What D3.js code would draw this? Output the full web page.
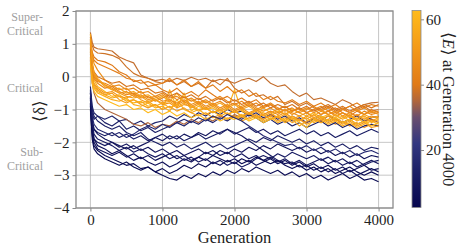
<!DOCTYPE html>
<html>
<head>
<meta charset="utf-8">
<script src="https://cdn.jsdelivr.net/npm/d3@7"></script>
<style>
  body { margin: 0; background: #fff; }
  svg { display: block; }
</style>
</head>
<body>
<div id="chart"></div>
<script>
// generations sampled
const generations = [0, 25, 50, 100,
  200, 300, 400, 500, 600, 700, 800, 900, 1000,
  1100, 1200, 1300, 1400, 1500, 1600, 1700, 1800, 1900, 2000,
  2100, 2200, 2300, 2400, 2500, 2600, 2700, 2800, 2900, 3000,
  3100, 3200, 3300, 3400, 3500, 3600, 3700, 3800, 3900, 4000];

// <E> at generation 4000, one per run
const energyFinal = [8, 37, 16, 55, 5, 38, 60, 12, 40, 50, 14, 35, 45, 10, 58, 41, 6, 52, 47, 9, 62, 13, 44, 4, 56, 17, 48, 11, 39, 53];

// <delta> for each run
const deltaRuns = [
  // 8
  [-0.8, -1.7, -2.0, -2.2,
   -2.3, -2.4, -2.3, -2.45, -2.35, -2.5, -2.4, -2.55, -2.45,
   -2.35, -2.5, -2.4, -2.55, -2.45, -2.3, -2.4, -2.25, -2.35, -2.2,
   -2.3, -2.15, -2.25, -2.1, -2.2, -2.05, -2.15, -2.25, -2.15, -2.3,
   -2.2, -2.35, -2.25, -2.4, -2.3, -2.45, -2.35, -2.5, -2.4, -2.45],
  // 37
  [1.35, 1.05, 0.9, 0.85,
   0.82, 0.78, 0.6, 0.5, 0.42, 0.05, -0.05, -0.12, -0.08,
   -0.15, -0.05, -0.12, -0.02, -0.1, -0.05, -0.15, -0.08, -0.12, -0.2,
   -0.1, -0.05, -0.15, 0.0, -0.2, -0.3, -0.25, -0.45, -0.6, -0.5,
   -0.7, -0.65, -0.75, -0.85, -0.7, -0.8, -0.95, -0.85, -0.8, -0.78],
  // 16
  [-0.3, -0.9, -1.1, -1.2,
   -1.3, -1.2, -1.35, -1.3, -1.45, -1.35, -1.5, -1.4, -1.35,
   -1.2, -1.3, -1.15, -1.25, -1.1, -1.2, -1.05, -1.15, -1.0, -1.1,
   -1.05, -1.2, -1.1, -1.25, -1.15, -1.3, -1.2, -1.35, -1.25, -1.4,
   -1.3, -1.2, -1.35, -1.25, -1.4, -1.3, -1.2, -1.35, -1.25, -1.2],
  // 55
  [1.3, 0.5, 0.1, -0.1,
   -0.3, -0.4, -0.35, -0.5, -0.45, -0.6, -0.55, -0.7, -0.6,
   -0.75, -0.5, -0.8, -0.7, -0.85, -0.75, -0.9, -0.8, -0.95, -0.85,
   -1.0, -0.9, -1.05, -0.95, -1.1, -1.0, -1.15, -1.05, -0.95, -1.1,
   -1.2, -1.05, -1.15, -1.25, -1.1, -1.2, -1.3, -1.15, -1.25, -1.2],
  // 5
  [-1.0, -1.8, -2.1, -2.25,
   -2.4, -2.5, -2.6, -2.7, -2.65, -2.8, -2.75, -2.9, -3.0,
   -3.1, -3.15, -3.0, -3.1, -2.95, -3.05, -2.9, -3.0, -2.85, -2.95,
   -2.8, -2.9, -2.75, -2.85, -2.95, -2.85, -3.0, -2.9, -3.05, -2.95,
   -3.1, -3.0, -3.15, -3.05, -2.95, -3.1, -3.0, -3.15, -3.1, -3.2],
  // 38
  [1.2, 0.95, 0.8, 0.72,
   0.7, 0.65, 0.55, 0.3, 0.1, 0.0, -0.05, -0.15, -0.2,
   -0.1, -0.25, -0.15, -0.3, -0.2, -0.35, -0.1, -0.25, -0.05, -0.35,
   -0.5, -0.4, -0.6, -0.55, -0.7, -0.6, -0.85, -0.75, -0.9, -0.8,
   -0.95, -1.0, -0.9, -1.05, -0.95, -1.1, -1.0, -0.9, -1.05, -1.0],
  // 60
  [0.9, 0.2, -0.1, -0.3,
   -0.45, -0.6, -0.55, -0.7, -0.8, -0.75, -0.9, -0.85, -1.0,
   -0.4, -0.95, -0.5, -1.05, -0.9, -1.0, -0.95, -1.1, -1.0, -0.4,
   -1.05, -1.15, -1.0, -1.1, -1.2, -1.05, -1.15, -1.0, -1.1, -1.2,
   -1.1, -1.25, -1.15, -1.3, -1.2, -1.35, -1.25, -1.4, -1.3, -1.35],
  // 12
  [-0.7, -1.4, -1.6, -1.7,
   -1.8, -1.7, -1.85, -1.75, -1.9, -1.8, -1.95, -1.85, -1.75,
   -1.9, -1.8, -1.95, -1.85, -1.75, -1.9, -1.8, -1.7, -1.6, -1.75,
   -1.65, -1.55, -1.7, -1.6, -1.75, -1.65, -1.8, -1.7, -1.6, -1.75,
   -1.65, -1.8, -1.7, -1.85, -1.75, -1.65, -1.8, -1.7, -1.6, -1.7],
  // 40
  [1.05, 0.75, 0.6, 0.5,
   0.45, 0.35, 0.15, 0.05, -0.15, -0.1, -0.3, -0.25, -0.4,
   -0.5, -0.35, -0.55, -0.45, -0.6, -0.4, -0.55, -0.7, -0.6, -0.75,
   -0.65, -0.8, -0.7, -0.9, -0.85, -1.0, -0.9, -1.05, -0.95, -1.1,
   -1.0, -1.15, -1.05, -0.95, -1.1, -1.2, -1.05, -1.15, -1.0, -1.1],
  // 50
  [0.7, 0.1, -0.2, -0.35,
   -0.5, -0.45, -0.6, -0.65, -0.55, -0.7, -0.8, -0.7, -0.85,
   -0.8, -0.95, -0.85, -0.9, -1.0, -0.95, -1.1, -1.0, -1.15, -1.05,
   -1.2, -1.1, -1.25, -1.15, -1.3, -1.2, -1.1, -1.25, -1.35, -1.2,
   -1.3, -1.4, -1.3, -1.45, -1.35, -1.5, -1.4, -1.55, -1.45, -1.5],
  // 14
  [-0.5, -1.1, -1.3, -1.2,
   -1.4, -1.5, -1.35, -1.6, -1.5, -1.65, -1.55, -1.7, -1.6,
   -1.5, -1.4, -1.5, -1.35, -1.45, -1.3, -1.4, -1.25, -1.35, -1.2,
   -1.3, -1.15, -1.25, -1.4, -1.3, -1.45, -1.35, -1.5, -1.4, -1.55,
   -1.45, -1.35, -1.5, -1.4, -1.55, -1.45, -1.6, -1.5, -1.45, -1.5],
  // 35
  [0.5, -0.2, -0.5, -0.8,
   -1.0, -1.1, -1.2, -1.3, -1.45, -1.5, -1.4, -1.55, -1.45,
   -1.5, -1.35, -1.45, -1.3, -1.4, -1.25, -1.35, -1.2, -1.3, -1.15,
   -1.25, -1.1, -1.2, -1.3, -1.15, -1.25, -1.35, -1.2, -1.3, -1.4,
   -1.25, -1.35, -1.2, -1.3, -1.4, -1.3, -1.45, -1.35, -1.3, -1.4],
  // 45
  [1.1, 0.3, 0.0, -0.15,
   -0.2, -0.3, -0.25, -0.4, -0.35, -0.5, -0.45, -0.6, -0.5,
   -0.65, -0.6, -0.75, -0.65, -0.8, -0.7, -0.85, -0.75, -0.9, -0.8,
   -0.95, -0.85, -1.0, -0.9, -0.8, -0.95, -1.05, -0.95, -1.1, -1.0,
   -0.9, -1.05, -0.95, -1.1, -1.0, -0.9, -1.05, -0.95, -1.1, -1.05],
  // 10
  [-0.9, -1.6, -1.9, -2.0,
   -2.1, -2.0, -2.15, -2.05, -2.2, -2.1, -2.0, -1.85, -1.95,
   -1.8, -1.9, -1.75, -1.85, -1.7, -1.8, -1.65, -1.75, -1.6, -1.7,
   -1.8, -1.95, -2.1, -2.25, -2.4, -2.55, -2.65, -2.6, -2.75, -2.7,
   -2.85, -2.75, -2.9, -2.8, -2.95, -2.85, -3.0, -2.9, -2.8, -2.9],
  // 58
  [0.6, -0.1, -0.35, -0.5,
   -0.6, -0.7, -0.75, -0.65, -0.85, -0.9, -0.8, -0.95, -0.9,
   -1.05, -0.7, -1.0, -1.1, -1.0, -1.15, -1.05, -1.2, -1.1, -1.25,
   -1.15, -1.3, -1.2, -1.35, -1.25, -1.4, -1.3, -1.2, -1.35, -1.25,
   -1.4, -1.3, -1.45, -1.35, -1.5, -1.4, -1.55, -1.45, -1.35, -1.45],
  // 41
  [0.95, 0.65, 0.5, 0.4,
   0.3, 0.2, 0.1, -0.05, -0.1, -0.2, -0.15, -0.25, -0.2,
   -0.05, -0.25, -0.1, -0.3, -0.15, -0.35, -0.25, -0.45, -0.3, -0.5,
   -0.4, -0.6, -0.5, -0.7, -0.6, -0.75, -0.8, -0.7, -0.85, -0.75,
   -0.9, -0.8, -0.95, -0.85, -1.0, -0.9, -0.8, -0.95, -0.85, -0.9],
  // 6
  [-0.6, -1.5, -1.9, -2.1,
   -2.2, -2.35, -2.25, -2.4, -2.55, -2.45, -2.6, -2.7, -2.6,
   -2.75, -2.65, -2.5, -2.6, -2.45, -2.55, -2.4, -2.5, -2.6, -2.5,
   -2.65, -2.55, -2.7, -2.6, -2.5, -2.65, -2.55, -2.7, -2.6, -2.75,
   -2.65, -2.8, -2.7, -2.85, -2.75, -2.9, -2.8, -2.7, -2.85, -2.8],
  // 52
  [0.8, 0.0, -0.25, -0.4,
   -0.55, -0.5, -0.7, -0.8, -0.7, -0.85, -0.95, -0.85, -1.0,
   -0.9, -1.05, -0.95, -1.1, -1.2, -1.1, -1.25, -1.15, -1.3, -1.2,
   -1.35, -1.25, -1.15, -1.3, -1.2, -1.35, -1.25, -1.4, -1.3, -1.45,
   -1.35, -1.25, -1.4, -1.3, -1.45, -1.35, -1.5, -1.4, -1.55, -1.5],
  // 47
  [1.2, 0.7, 0.4, 0.2,
   -0.1, -0.25, -0.4, -0.35, -0.55, -0.45, -0.65, -0.6, -0.75,
   -0.7, -0.85, -0.75, -0.9, -0.8, -0.95, -0.85, -1.0, -0.9, -1.05,
   -0.95, -1.1, -1.0, -1.15, -1.05, -1.15, -1.0, -1.1, -1.2, -1.1,
   -1.25, -1.15, -1.05, -1.2, -1.1, -1.25, -1.15, -1.3, -1.2, -1.25],
  // 9
  [-0.5, -1.3, -1.6, -1.75,
   -1.9, -2.0, -2.1, -2.2, -2.1, -2.25, -2.15, -2.3, -2.2,
   -2.35, -2.25, -2.4, -2.3, -2.2, -2.35, -2.25, -2.4, -2.3, -2.45,
   -2.35, -2.5, -2.4, -2.55, -2.45, -2.6, -2.5, -2.65, -2.55, -2.7,
   -2.6, -2.5, -2.65, -2.55, -2.7, -2.6, -2.75, -2.65, -2.55, -2.65],
  // 62
  [0.4, -0.2, -0.45, -0.6,
   -0.7, -0.8, -0.9, -0.85, -1.0, -0.95, -1.1, -1.0, -1.15,
   -1.05, -1.2, -1.1, -1.25, -1.15, -1.3, -1.2, -1.35, -1.25, -1.3,
   -1.2, -1.35, -1.25, -1.4, -1.3, -1.2, -1.35, -1.25, -1.4, -1.55,
   -1.3, -1.2, -1.35, -1.25, -1.4, -1.3, -1.45, -1.35, -1.5, -1.4],
  // 13
  [-0.4, -1.0, -1.2, -1.35,
   -1.5, -1.6, -1.5, -1.7, -1.8, -1.7, -1.9, -2.0, -2.1,
   -2.0, -2.15, -2.05, -2.2, -2.1, -2.0, -2.15, -2.05, -2.2, -2.1,
   -2.0, -1.9, -2.0, -1.85, -1.95, -1.8, -1.9, -2.0, -1.9, -2.05,
   -1.95, -2.1, -2.0, -2.15, -2.05, -2.2, -2.1, -2.25, -2.15, -2.2],
  // 44
  [1.0, 0.2, -0.05, -0.2,
   -0.35, -0.3, -0.45, -0.55, -0.5, -0.65, -0.6, -0.75, -0.65,
   -0.55, -0.7, -0.6, -0.75, -0.65, -0.8, -0.7, -0.6, -0.75, -0.85,
   -0.75, -0.9, -0.8, -0.95, -0.85, -1.0, -0.9, -1.05, -0.95, -1.1,
   -1.0, -0.9, -1.05, -1.15, -1.0, -1.1, -1.2, -1.05, -1.15, -1.1],
  // 4
  [-0.85, -1.9, -2.2, -2.35,
   -2.5, -2.6, -2.7, -2.6, -2.75, -2.85, -2.75, -2.9, -2.8,
   -2.95, -2.85, -2.7, -2.8, -2.65, -2.75, -2.6, -2.7, -2.55, -2.65,
   -2.5, -2.6, -2.45, -2.55, -2.65, -2.55, -2.7, -2.8, -2.7, -2.85,
   -2.75, -2.9, -2.8, -2.95, -2.85, -2.75, -2.9, -3.0, -2.9, -3.0],
  // 56
  [0.55, -0.05, -0.3, -0.45,
   -0.55, -0.65, -0.6, -0.75, -0.7, -0.8, -0.75, -0.9, -0.8,
   -0.95, -0.85, -0.6, -0.9, -1.05, -0.95, -1.1, -1.0, -1.15, -1.05,
   -1.2, -1.1, -1.25, -1.15, -1.3, -1.2, -1.4, -1.3, -1.5, -1.35,
   -1.25, -1.4, -1.3, -1.15, -1.3, -1.2, -1.35, -1.25, -1.4, -1.3],
  // 17
  [-0.45, -1.2, -1.45, -1.6,
   -1.7, -1.8, -1.7, -1.85, -1.75, -1.6, -1.5, -1.6, -1.45,
   -1.55, -1.4, -1.3, -1.4, -1.25, -1.35, -1.2, -1.3, -1.15, -1.25,
   -1.35, -1.5, -1.65, -1.8, -1.9, -2.0, -2.1, -2.05, -2.2, -2.1,
   -2.25, -2.15, -2.3, -2.2, -2.35, -2.25, -2.4, -2.3, -2.25, -2.35],
  // 48
  [0.75, 0.25, 0.05, -0.1,
   -0.25, -0.35, -0.5, -0.45, -0.6, -0.55, -0.7, -0.65, -0.55,
   -0.7, -0.8, -0.7, -0.85, -0.75, -0.9, -0.8, -0.95, -0.85, -1.0,
   -0.9, -0.8, -0.95, -1.05, -0.95, -1.1, -1.0, -1.15, -1.05, -0.95,
   -1.1, -1.0, -1.15, -1.05, -1.2, -1.1, -1.0, -1.15, -1.05, -1.15],
  // 11
  [-0.65, -1.4, -1.75, -1.9,
   -2.0, -2.1, -2.25, -2.15, -2.3, -2.2, -2.35, -2.45, -2.35,
   -2.5, -2.4, -2.55, -2.45, -2.6, -2.5, -2.65, -2.55, -2.7, -2.6,
   -2.75, -2.65, -2.5, -2.4, -2.5, -2.35, -2.45, -2.3, -2.4, -2.5,
   -2.4, -2.55, -2.45, -2.6, -2.5, -2.65, -2.55, -2.7, -2.6, -2.55],
  // 39
  [0.85, 0.35, 0.15, 0.0,
   -0.1, -0.2, -0.15, -0.3, -0.25, -0.4, -0.35, -0.5, -0.45,
   -0.6, -0.5, -0.65, -0.55, -0.7, -0.6, -0.75, -0.65, -0.8, -0.7,
   -0.85, -0.75, -0.9, -0.8, -0.95, -0.85, -0.95, -0.85, -1.0, -0.9,
   -1.05, -0.95, -0.85, -1.0, -0.9, -1.05, -0.95, -0.85, -0.95, -0.85],
  // 53
  [1.15, 0.4, 0.1, -0.05,
   -0.25, -0.4, -0.5, -0.6, -0.65, -0.6, -0.75, -0.7, -0.8,
   -0.75, -0.9, -0.8, -0.95, -0.85, -1.0, -0.9, -1.05, -0.95, -1.1,
   -1.0, -1.15, -1.05, -1.2, -1.1, -1.25, -1.15, -1.3, -1.2, -1.3,
   -1.15, -1.3, -1.2, -1.35, -1.25, -1.15, -1.3, -1.2, -1.35, -1.25]
];

const xTicks = [0, 1000, 2000, 3000, 4000];
const yTicks = [-4, -3, -2, -1, 0, 1, 2];
const cbTicks = [20, 40, 60];
const energyRange = [2.4, 62.7];
// colormap: value stops and colours
const cmapStops = [2.4, 14, 22, 30, 35, 40, 50, 62.7];
const cmapColors = ["#07074f", "#1d2168", "#323780", "#6a4e6e", "#b0663c", "#e07a18", "#f29619", "#ffbb1c"];

// regime annotations, one entry per label (lines of text, first baseline)
const regimes = [[["Super-", "Critical"], 21], [["Critical"], 92], [["Sub-", "Critical"], 156]];

const W = 466, H = 250;
const plot = { left: 76, right: 393, top: 11, bottom: 208 };
const FONT = '"Liberation Serif"';

const svg = d3.select("#chart").append("svg")
    .attr("width", W)
    .attr("height", H);

const x = d3.scaleLinear().domain([-200, 4200]).range([plot.left, plot.right]);
const y = d3.scaleLinear().domain([-4, 2]).range([plot.bottom, plot.top]);

const color = d3.scaleLinear().domain(cmapStops).range(cmapColors).clamp(true);

// grid
const grid = svg.append("g");
grid.selectAll(".gx").data(xTicks).join("line")
    .attr("x1", d => x(d)).attr("x2", d => x(d))
    .attr("y1", plot.top).attr("y2", plot.bottom)
    .attr("stroke", "#b8b8b8").attr("stroke-width", 0.8);
grid.selectAll(".gy").data(yTicks).join("line")
    .attr("y1", d => y(d)).attr("y2", d => y(d))
    .attr("x1", plot.left).attr("x2", plot.right)
    .attr("stroke", "#b8b8b8").attr("stroke-width", 0.8);

// runs
const line = d3.line()
    .x((d, i) => x(generations[i]))
    .y(d => y(d));

svg.append("g")
  .selectAll("path")
  .data(deltaRuns)
  .join("path")
    .attr("d", line)
    .attr("fill", "none")
    .attr("stroke", (d, i) => color(energyFinal[i]))
    .attr("stroke-width", 1.15)
    .attr("stroke-linejoin", "round");

// frame
svg.append("rect")
    .attr("x", plot.left).attr("y", plot.top)
    .attr("width", plot.right - plot.left).attr("height", plot.bottom - plot.top)
    .attr("fill", "none").attr("stroke", "#8a8a8a").attr("stroke-width", 1.3);

// axes
const xAxis = svg.append("g")
    .attr("transform", `translate(0,${plot.bottom})`)
    .call(d3.axisBottom(x).tickValues(xTicks).tickSize(3.5).tickPadding(3).tickFormat(d3.format("d")));
const yAxis = svg.append("g")
    .attr("transform", `translate(${plot.left},0)`)
    .call(d3.axisLeft(y).tickValues(yTicks).tickSize(3.5).tickPadding(3).tickFormat(d3.format("d")));
[xAxis, yAxis].forEach(a => {
  a.select(".domain").remove();
  a.selectAll(".tick line").attr("stroke", "#8a8a8a").attr("stroke-width", 1);
  a.selectAll(".tick text").attr("fill", "#222").style("font-size", "15px");
});

// axis labels
svg.append("text")
    .attr("x", (x(0) + x(4000)) / 2).attr("y", 243)
    .attr("text-anchor", "middle")
    .style("font-size", "16.5px").attr("fill", "#222")
    .text("Generation");

svg.append("text")
    .attr("transform", "translate(45,111) rotate(-90)")
    .attr("text-anchor", "middle")
    .style("font-size", "17px").attr("fill", "#222")
    .text("⟨δ⟩");

// regime annotations (one text per label, lines as tspans)
svg.append("g").selectAll("text")
  .data(regimes)
  .join("text")
    .attr("y", d => d[1])
    .attr("text-anchor", "end")
    .style("font-size", "12px").attr("fill", "#a0a0a0")
  .selectAll("tspan")
  .data(d => d[0])
  .join("tspan")
    .attr("x", 43)
    .attr("dy", (d, i) => i === 0 ? 0 : 13.6)
    .text(d => d);

// colorbar
const cb = { x: 412, w: 9, top: 10.5, bottom: 207.5 };
const cy = d3.scaleLinear().domain(energyRange).range([cb.bottom, cb.top]);
const defs = svg.append("defs");
const grad = defs.append("linearGradient")
    .attr("id", "cbgrad").attr("x1", 0).attr("y1", 1).attr("x2", 0).attr("y2", 0);
grad.selectAll("stop").data(cmapStops).join("stop")
    .attr("offset", d => (d - energyRange[0]) / (energyRange[1] - energyRange[0]))
    .attr("stop-color", (d, i) => cmapColors[i]);
svg.append("rect")
    .attr("x", cb.x).attr("y", cb.top)
    .attr("width", cb.w).attr("height", cb.bottom - cb.top)
    .attr("fill", "url(#cbgrad)")
    .attr("stroke", "#8a8a8a").attr("stroke-width", 0.8);
const cAxis = svg.append("g")
    .attr("transform", `translate(${cb.x + cb.w},0)`)
    .call(d3.axisRight(cy).tickValues(cbTicks).tickSize(3).tickPadding(2));
cAxis.select(".domain").remove();
cAxis.selectAll(".tick line").attr("stroke", "#8a8a8a");
cAxis.selectAll(".tick text").attr("fill", "#222").style("font-size", "15px");

const cbLabel = svg.append("text")
    .attr("transform", `translate(443,${(cb.top + cb.bottom) / 2}) rotate(90)`)
    .attr("text-anchor", "middle")
    .style("font-size", "16.5px").attr("fill", "#222");
cbLabel.append("tspan").text("⟨");
cbLabel.append("tspan").style("font-style", "italic").text("E");
cbLabel.append("tspan").text("⟩ at Generation 4000");

// serif font on every text
svg.selectAll("text").style("font-family", FONT);
svg.selectAll("g").attr("font-family", null);
</script>
</body>
</html>
